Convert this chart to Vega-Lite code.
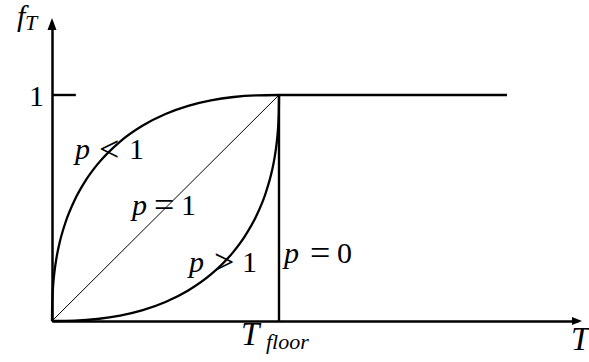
{
  "$schema": "https://vega.github.io/schema/vega-lite/v6.json",
  "width": 526,
  "height": 299,
  "autosize": {"type": "none"},
  "padding": {"left": 52, "top": 22, "right": 11, "bottom": 41},
  "background": "white",
  "config": {"view": {"stroke": null}},
  "datasets": {
    "curves": [
      {"s": "p<1", "i": 0, "x": 0, "y": 0},
      {"s": "p<1", "i": 1, "x": 0.0005, "y": 0.0607},
      {"s": "p<1", "i": 2, "x": 0.002, "y": 0.108},
      {"s": "p<1", "i": 3, "x": 0.005, "y": 0.1581},
      {"s": "p<1", "i": 4, "x": 0.01, "y": 0.2108},
      {"s": "p<1", "i": 5, "x": 0.02, "y": 0.2805},
      {"s": "p<1", "i": 6, "x": 0.03, "y": 0.3312},
      {"s": "p<1", "i": 7, "x": 0.06, "y": 0.4381},
      {"s": "p<1", "i": 8, "x": 0.1, "y": 0.5356},
      {"s": "p<1", "i": 9, "x": 0.15, "y": 0.6244},
      {"s": "p<1", "i": 10, "x": 0.2, "y": 0.693},
      {"s": "p<1", "i": 11, "x": 0.3, "y": 0.7942},
      {"s": "p<1", "i": 12, "x": 0.4, "y": 0.8652},
      {"s": "p<1", "i": 13, "x": 0.5, "y": 0.9162},
      {"s": "p<1", "i": 14, "x": 0.6, "y": 0.9522},
      {"s": "p<1", "i": 15, "x": 0.7, "y": 0.9764},
      {"s": "p<1", "i": 16, "x": 0.8, "y": 0.9912},
      {"s": "p<1", "i": 17, "x": 0.9, "y": 0.9983},
      {"s": "p<1", "i": 18, "x": 1, "y": 1},
      {"s": "p>1", "i": 0, "x": 0, "y": 0},
      {"s": "p>1", "i": 1, "x": 0.1, "y": 0.0017},
      {"s": "p>1", "i": 2, "x": 0.2, "y": 0.0088},
      {"s": "p>1", "i": 3, "x": 0.3, "y": 0.0236},
      {"s": "p>1", "i": 4, "x": 0.4, "y": 0.0478},
      {"s": "p>1", "i": 5, "x": 0.5, "y": 0.0838},
      {"s": "p>1", "i": 6, "x": 0.6, "y": 0.1348},
      {"s": "p>1", "i": 7, "x": 0.7, "y": 0.2058},
      {"s": "p>1", "i": 8, "x": 0.8, "y": 0.307},
      {"s": "p>1", "i": 9, "x": 0.85, "y": 0.3756},
      {"s": "p>1", "i": 10, "x": 0.9, "y": 0.4644},
      {"s": "p>1", "i": 11, "x": 0.94, "y": 0.5619},
      {"s": "p>1", "i": 12, "x": 0.97, "y": 0.6688},
      {"s": "p>1", "i": 13, "x": 0.98, "y": 0.7195},
      {"s": "p>1", "i": 14, "x": 0.99, "y": 0.7892},
      {"s": "p>1", "i": 15, "x": 0.995, "y": 0.8419},
      {"s": "p>1", "i": 16, "x": 0.998, "y": 0.892},
      {"s": "p>1", "i": 17, "x": 0.9995, "y": 0.9393},
      {"s": "p>1", "i": 18, "x": 1, "y": 1}
    ],
    "straight": [
      {"s": "p=0", "i": 0, "x": 1, "y": 0},
      {"s": "p=0", "i": 1, "x": 1, "y": 1},
      {"s": "cap", "i": 0, "x": 1, "y": 1},
      {"s": "cap", "i": 1, "x": 2.0044, "y": 1}
    ],
    "diagonal": [
      {"s": "p=1", "i": 0, "x": 0, "y": 0},
      {"s": "p=1", "i": 1, "x": 1, "y": 1}
    ],
    "italicText": [
      {"t": "p", "x": 0.1013, "y": 0.717},
      {"t": "p", "x": 0.3524, "y": 0.469},
      {"t": "p", "x": 0.6035, "y": 0.2168},
      {"t": "p", "x": 1.022, "y": 0.2566},
      {"t": "f", "x": -0.154, "y": 1.3075}
    ],
    "capitalText": [
      {"t": "T", "x": 2.2863, "y": -0.1283},
      {"t": "T", "x": 0.8326, "y": -0.1062}
    ],
    "relationText": [
      {"t": "<", "x": 0.207, "y": 0.7082},
      {"t": "=", "x": 0.4493, "y": 0.4602},
      {"t": ">", "x": 0.7137, "y": 0.208},
      {"t": "=", "x": 1.1365, "y": 0.2478}
    ],
    "romanText": [
      {"t": "1", "x": 0.339, "y": 0.717},
      {"t": "1", "x": 0.5683, "y": 0.469},
      {"t": "1", "x": 0.837, "y": 0.2168},
      {"t": "0", "x": 1.2555, "y": 0.2566},
      {"t": "1", "x": -0.1013, "y": 0.9513}
    ],
    "subText": [
      {"t": "T", "x": -0.119, "y": 1.2876},
      {"t": "floor", "x": 0.9427, "y": -0.1239}
    ]
  },
  "encoding": {
    "x": {
      "field": "x",
      "type": "quantitative",
      "scale": {"domain": [0, 2.3172], "nice": false, "zero": false},
      "axis": {"domain": true, "domainColor": "black", "domainWidth": 2.5, "ticks": false, "labels": false, "grid": false, "title": null}
    },
    "y": {
      "field": "y",
      "type": "quantitative",
      "scale": {"domain": [0, 1.323], "nice": false, "zero": false},
      "axis": {"domain": true, "domainColor": "black", "domainWidth": 2.5, "ticks": false, "labels": false, "grid": false, "title": null}
    }
  },
  "layer": [
    {
      "data": {"name": "curves"},
      "mark": {"type": "line", "color": "black", "strokeWidth": 2.3, "interpolate": "monotone"},
      "encoding": {"detail": {"field": "s"}, "order": {"field": "i"}}
    },
    {
      "data": {"name": "straight"},
      "mark": {"type": "line", "color": "black", "strokeWidth": 2.4},
      "encoding": {"detail": {"field": "s"}, "order": {"field": "i"}}
    },
    {
      "data": {"name": "diagonal"},
      "mark": {"type": "line", "color": "black", "strokeWidth": 1},
      "encoding": {"detail": {"field": "s"}, "order": {"field": "i"}}
    },
    {
      "data": {"values": [{"x": 0, "x2": 0.105, "y": 1}]},
      "mark": {"type": "rule", "color": "black", "strokeWidth": 2.4},
      "encoding": {"x2": {"field": "x2"}}
    },
    {
      "data": {"values": [{"x": 0, "y": 1.3142}]},
      "mark": {"type": "point", "filled": true, "color": "black", "opacity": 1, "size": 144, "shape": "M0,-1L0.75,1L-0.75,1Z", "strokeWidth": 0}
    },
    {
      "data": {"values": [{"x": 2.3128, "y": 0}]},
      "mark": {"type": "point", "filled": true, "color": "black", "opacity": 1, "size": 100, "shape": "M1,0L-1,0.8L-1,-0.8Z", "strokeWidth": 0}
    },
    {
      "data": {"name": "italicText"},
      "mark": {"type": "text", "font": "'Liberation Serif', 'DejaVu Serif', serif", "fontSize": 30, "fontStyle": "italic", "align": "left", "baseline": "alphabetic", "color": "black"},
      "encoding": {"text": {"field": "t"}}
    },
    {
      "data": {"name": "capitalText"},
      "mark": {"type": "text", "font": "'Liberation Serif', 'DejaVu Serif', serif", "fontSize": 33, "fontStyle": "italic", "align": "left", "baseline": "alphabetic", "color": "black"},
      "encoding": {"text": {"field": "t"}}
    },
    {
      "data": {"name": "relationText"},
      "mark": {"type": "text", "font": "'Liberation Serif', 'DejaVu Serif', serif", "fontSize": 36, "align": "left", "baseline": "alphabetic", "color": "black"},
      "encoding": {"text": {"field": "t"}}
    },
    {
      "data": {"name": "romanText"},
      "mark": {"type": "text", "font": "'Liberation Serif', 'DejaVu Serif', serif", "fontSize": 30, "align": "left", "baseline": "alphabetic", "color": "black"},
      "encoding": {"text": {"field": "t"}}
    },
    {
      "data": {"name": "subText"},
      "mark": {"type": "text", "font": "'Liberation Serif', 'DejaVu Serif', serif", "fontSize": 22, "fontStyle": "italic", "align": "left", "baseline": "alphabetic", "color": "black"},
      "encoding": {"text": {"field": "t"}}
    }
  ]
}
